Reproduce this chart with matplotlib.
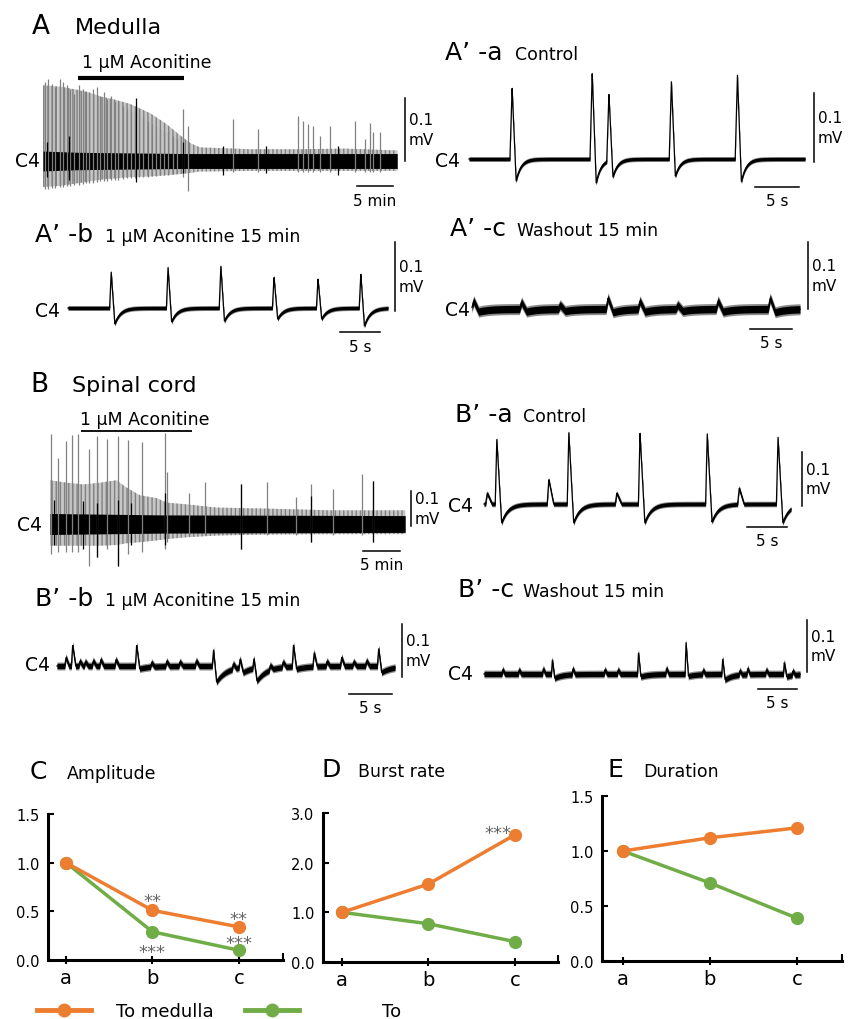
import numpy as np
import matplotlib
matplotlib.use("Agg")
import matplotlib.pyplot as plt
from matplotlib.lines import Line2D

plt.rcParams['font.family'] = ['DejaVu Sans']
plt.rcParams['hatch.linewidth'] = 1.0

# ---------------- data ----------------
categories = ['a', 'b', 'c']
amp_medulla = [1.0, 0.51, 0.34]
amp_spinal = [1.0, 0.29, 0.10]
rate_medulla = [1.0, 1.57, 2.56]
rate_spinal = [1.0, 0.77, 0.41]
dur_medulla = [1.0, 1.12, 1.21]
dur_spinal = [1.0, 0.71, 0.39]
series_labels = ['To medulla', 'To']

# long trace A (minutes, mV)
A_env_t = [0, 2.4, 4.7, 6.5, 8.0, 10.0, 12.1, 14.9, 17.1, 19.2, 20.6, 21.8, 28.8, 35.7, 42, 49.2]
A_env_up = [0.122, 0.120, 0.115, 0.110, 0.104, 0.099, 0.092, 0.077, 0.060, 0.040, 0.028, 0.022, 0.019, 0.019, 0.020, 0.017]
A_env_dn = [0.042, 0.040, 0.036, 0.033, 0.030, 0.028, 0.026, 0.025, 0.023, 0.021, 0.019, 0.017, 0.016, 0.016, 0.016, 0.016]
A_sp_t = [0.28, 0.74, 1.2, 1.67, 2.36, 2.82, 3.29, 3.75, 4.31, 5.0, 5.51, 5.97, 6.44, 6.99, 7.45,
          7.92, 8.47, 8.94, 9.49, 10.0, 10.46, 11.06, 11.62, 12.18, 12.78, 13.38, 13.94, 14.54, 15.09,
          15.69, 16.25, 16.81, 17.41, 18.01, 18.56, 19.4, 20.19, 26.44, 29.9, 35.37, 36.16, 36.85,
          37.55, 38.47, 39.86, 43.33, 44.72, 45.42, 45.88, 46.81]
A_sp_up = [0.127, 0.132, 0.124, 0.119, 0.132, 0.127, 0.122, 0.116, 0.108, 0.123, 0.116, 0.113, 0.111,
           0.116, 0.119, 0.105, 0.111, 0.100, 0.105, 0.097, 0.095, 0.089, 0.084, 0.081, 0.078, 0.084,
           0.070, 0.065, 0.060, 0.057, 0.052, 0.046, 0.046, 0.041, 0.035, 0.084, 0.057, 0.068, 0.052,
           0.073, 0.065, 0.060, 0.057, 0.041, 0.057, 0.065, 0.035, 0.062, 0.046, 0.046]
A_sp_dn = [0.045, 0.045, 0.044, 0.043, 0.042, 0.042, 0.041, 0.040, 0.039, 0.038, 0.037, 0.036, 0.035,
           0.035, 0.034, 0.033, 0.032, 0.032, 0.031, 0.030, 0.030, 0.029, 0.028, 0.028, 0.027, 0.026,
           0.026, 0.025, 0.024, 0.024, 0.023, 0.022, 0.022, 0.021, 0.020, 0.025, 0.049, 0.018, 0.018,
           0.018, 0.018, 0.018, 0.018, 0.018, 0.018, 0.018, 0.018, 0.018, 0.018, 0.018]
A_blk_t = [0.5, 3.6, 12.92, 19.5, 25.0, 31.0, 41.0]
A_blk_up = [0.03, 0.04, 0.101, 0.03, 0.025, 0.025, 0.025]
A_blk_dn = [0.025, 0.03, 0.034, 0.02, 0.022, 0.02, 0.022]
A_band_t = [0, 5, 20, 49.2]
A_band_hw = [0.016, 0.014, 0.012, 0.012]
A_drug = [4.9, 19.6]

# long trace B (minutes, mV)
B_env_t = [0, 2.25, 4.5, 6.76, 9.0, 10.36, 12.16, 14.4, 15.8, 18.5, 22.5, 29.3, 38.3, 48]
B_env_up = [0.125, 0.118, 0.113, 0.118, 0.125, 0.104, 0.082, 0.074, 0.061, 0.056, 0.047, 0.044, 0.039, 0.039]
B_env_dn = [0.062, 0.062, 0.062, 0.062, 0.060, 0.055, 0.052, 0.047, 0.043, 0.038, 0.033, 0.030, 0.029, 0.029]
B_sp_t = [0.14, 1.13, 2.12, 3.02, 3.83, 5.27, 6.31, 7.75, 9.23, 10.59, 12.39, 15.54, 15.77, 18.78,
          20.95, 25.77, 29.28, 33.2, 35.27, 38.29, 42.2, 43.6]
B_sp_up = [0.257, 0.19, 0.238, 0.255, 0.257, 0.214, 0.25, 0.243, 0.25, 0.24, 0.233, 0.26, 0.148, 0.09,
           0.119, 0.114, 0.119, 0.076, 0.114, 0.10, 0.143, 0.124]
B_sp_dn = [0.086, 0.08, 0.08, 0.08, 0.08, 0.119, 0.095, 0.071, 0.119, 0.086, 0.081, 0.071, 0.05, 0.03,
           0.03, 0.071, 0.03, 0.03, 0.052, 0.03, 0.03, 0.052]
B_blk_t = [0.5, 4.5, 6.3, 9.2, 11.0, 15.6, 25.77, 35.27, 43.6]
B_blk_up = [0.07, 0.065, 0.06, 0.07, 0.06, 0.09, 0.114, 0.08, 0.124]
B_blk_dn = [0.06, 0.07, 0.095, 0.119, 0.06, 0.06, 0.071, 0.052, 0.052]
B_band_t = [0, 15, 48]
B_band_hw = [0.030, 0.026, 0.024]
B_drug = [4.2, 19.2]

# short traces (seconds, mV): burst times, peak, undershoot
Aa_t = [4.9, 14.0, 15.9, 23.0, 30.5]
Aa_up = [0.103, 0.125, 0.097, 0.112, 0.123]
Aa_dn = [0.032, 0.035, 0.025, 0.025, 0.033]
Ab_t = [5.4, 12.5, 19.1, 25.75, 31.25, 36.6]
Ab_up = [0.052, 0.059, 0.061, 0.045, 0.042, 0.049]
Ab_dn = [0.023, 0.020, 0.019, 0.016, 0.016, 0.026]
Ac_t = [0.2, 5.9, 10.5, 16.2, 20.0, 24.5, 29.3, 35.5]
Ac_up = [0.012, 0.010, 0.006, 0.016, 0.012, 0.006, 0.012, 0.016]
Ac_dn = [0.004, 0.004, 0.003, 0.005, 0.004, 0.003, 0.004, 0.005]
Ba_t = [0.4, 1.6, 8.1, 10.6, 16.6, 19.5, 27.9, 31.9, 36.75]
Ba_up = [0.02, 0.12, 0.045, 0.133, 0.02, 0.131, 0.131, 0.03, 0.124]
Ba_dn = [0.0, 0.035, 0.0, 0.035, 0.0, 0.035, 0.033, 0.0, 0.035]
Bb_t = [1.05, 1.82, 2.67, 3.3, 4.22, 5.1, 6.86, 9.26, 11.0, 12.75, 14.3, 16.2, 18.2, 20.5, 21.3,
        22.9, 24.8, 26.3, 27.5, 29.9, 31.4, 33.1, 34.5, 36.0, 37.4]
Bb_up = [0.016, 0.039, 0.009, 0.008, 0.010, 0.012, 0.012, 0.039, 0.008, 0.009, 0.008, 0.010, 0.030,
         0.010, 0.016, 0.018, 0.009, 0.010, 0.040, 0.026, 0.009, 0.016, 0.008, 0.010, 0.033]
Bb_dn = [0.0, 0.0, 0.0, 0.0, 0.0, 0.0, 0.0, 0.005, 0.0, 0.0, 0.0, 0.0, 0.030, 0.0, 0.010,
         0.025, 0.0, 0.0, 0.005, 0.0, 0.0, 0.0, 0.0, 0.0, 0.012]
Bc_t = [2.4, 4.5, 7.6, 8.76, 11.4, 15.5, 17.2, 19.8, 23.4, 25.9, 28.1, 30.6, 32.8, 33.8, 36.2, 38.5, 39.6]
Bc_up = [0.008, 0.008, 0.010, 0.027, 0.011, 0.008, 0.008, 0.041, 0.011, 0.061, 0.008, 0.029, 0.008,
         0.011, 0.008, 0.022, 0.008]
Bc_dn = [0.0, 0.0, 0.0, 0.008, 0.0, 0.0, 0.0, 0.005, 0.0, 0.004, 0.0, 0.011, 0.0, 0.0, 0.0, 0.005, 0.0]

ORANGE = '#ED7D31'
GREEN = '#70AD47'

# ---------------- figure ----------------
W, H = 848, 1020
fig = plt.figure(figsize=(W / 100, H / 100), dpi=100)


def fx(x):
    return x / W


def fy(y):
    return 1 - y / H


def ftext(x, y, s, size, ha='left', va='baseline', **kw):
    fig.text(fx(x), fy(y), s, fontsize=size, ha=ha, va=va, **kw)


class Trace:
    def __init__(self, xs, xe, kx, yb, ky):
        self.xs, self.xe, self.kx, self.yb, self.ky = xs, xe, kx, yb, ky
        ytop, ybot = yb - 100, yb + 50
        self.ax = fig.add_axes([fx(xs), fy(ybot), (xe - xs) / W, (ybot - ytop) / H])
        self.ax.set_xlim(0, (xe - xs) / kx)
        self.ax.set_ylim((yb - ybot) / ky, (yb - ytop) / ky)
        self.ax.axis('off')
        self.T = (xe - xs) / kx

    def dx(self, x):
        return (x - self.xs) / self.kx

    def dy(self, y):
        return (self.yb - y) / self.ky

    def scalebars(self, hx0, hy, hlen, hlabel, vx, vy0, vy1):
        ax = self.ax
        x0 = self.dx(hx0)
        ax.plot([x0, x0 + hlen], [self.dy(hy), self.dy(hy)], color='k', lw=1.1, clip_on=False)
        ax.text(x0 + hlen / 2, self.dy(hy + 14), hlabel, ha='center', va='center', fontsize=11)
        ax.plot([self.dx(vx)] * 2, [self.dy(vy0), self.dy(vy1)], color='k', lw=1.1, clip_on=False)
        ax.text(self.dx(vx + 4), (self.dy(vy0) + self.dy(vy1)) / 2, '0.1\nmV', ha='left',
                va='center', fontsize=11, linespacing=1.35)

    def c4(self, xr, yb):
        ftext(xr, yb, 'C4', 13.5, ha='right')


def wave(t, times, ups, downs, rise, fall, tau):
    y = np.zeros_like(t)
    for t0, a, d in zip(times, ups, downs):
        r = (t >= t0 - rise) & (t < t0)
        y[r] += a * (t[r] - (t0 - rise)) / rise
        f = (t >= t0) & (t < t0 + fall)
        y[f] += a - (a + d) * (t[f] - t0) / fall
        g = t >= t0 + fall
        y[g] += -d * np.exp(-(t[g] - t0 - fall) / tau)
    return y


def short_trace(tr, times, ups, downs, hw, rise=0.22, fall=0.5, tau=1.0):
    t = np.linspace(0, tr.T, 4000)
    y = wave(t, times, ups, downs, rise, fall, tau)
    ax = tr.ax
    ax.fill_between(t, y - 1.5 * hw, y + 1.5 * hw, color='0.55', lw=0, clip_on=False)
    ax.fill_between(t, y - hw, y + hw, color='k', lw=0, clip_on=False)
    ax.plot(t, y, color='k', lw=0.9, clip_on=False)


def long_trace(tr, env_t, env_up, env_dn, sp_t, sp_up, sp_dn, blk_t, blk_up, blk_dn, band_t, band_hw):
    ax = tr.ax
    ax.fill_between(env_t, -np.array(env_dn), env_up, facecolor='0.78', edgecolor='0.5',
                    hatch='||||', lw=0, clip_on=False)
    ax.vlines(sp_t, -np.array(sp_dn), sp_up, color='0.5', lw=0.9, clip_on=False)
    ax.fill_between(band_t, -np.array(band_hw), band_hw, color='k', lw=0, clip_on=False)
    ax.vlines(blk_t, -np.array(blk_dn), blk_up, color='k', lw=0.9, clip_on=False)


# ---- Panel A ----
ftext(32, 34, 'A', 19)
ftext(75, 34, 'Medulla', 16)
trA = Trace(43, 397, 7.2, 162, 620)
long_trace(trA, A_env_t, A_env_up, A_env_dn, A_sp_t, A_sp_up, A_sp_dn, A_blk_t, A_blk_up, A_blk_dn,
           A_band_t, A_band_hw)
trA.ax.plot(A_drug, [trA.dy(79)] * 2, color='k', lw=3, clip_on=False, solid_capstyle='butt')
ftext(82, 68, '1 μM Aconitine', 12.5)
trA.scalebars(357, 187, 5, '5 min', 405, 162, 99)
trA.c4(40, 167)

# ---- A'-a ----
ftext(445, 60, 'A’ -a', 18)
ftext(515, 60, 'Control', 12.5)
trAa = Trace(469, 805, 8.8, 160, 690)
short_trace(trAa, Aa_t, Aa_up, Aa_dn, 0.0024, rise=0.25, fall=0.45, tau=0.55)
trAa.scalebars(755, 188, 5, '5 s', 814, 163, 94)
trAa.c4(460, 167)

# ---- A'-b ----
ftext(35, 242, 'A’ -b', 18)
ftext(105, 242, '1 μM Aconitine 15 min', 12.5)
trAb = Trace(68, 388, 8.0, 309, 690)
short_trace(trAb, Ab_t, Ab_up, Ab_dn, 0.0024, rise=0.2, fall=0.45, tau=0.7)
trAb.scalebars(340, 333, 5, '5 s', 395, 312, 243)
trAb.c4(60, 317)

# ---- A'-c ----
ftext(450, 236, 'A’ -c', 18)
ftext(517, 236, 'Washout 15 min', 12.5)
trAc = Trace(472, 800, 8.4, 310, 670)
short_trace(trAc, Ac_t, Ac_up, Ac_dn, 0.0055, rise=0.25, fall=0.6, tau=1.2)
trAc.scalebars(750, 330, 5, '5 s', 808, 310, 243)
trAc.c4(470, 316)

# ---- Panel B ----
ftext(30, 392, 'B', 19)
ftext(72, 392, 'Spinal cord', 16)
trB = Trace(50, 405, 7.4, 525, 350)
long_trace(trB, B_env_t, B_env_up, B_env_dn, B_sp_t, B_sp_up, B_sp_dn, B_blk_t, B_blk_up, B_blk_dn,
           B_band_t, B_band_hw)
trB.ax.plot(B_drug, [trB.dy(432)] * 2, color='k', lw=1.3, clip_on=False, solid_capstyle='butt')
ftext(80, 425, '1 μM Aconitine', 12.5)
trB.scalebars(363, 552, 5, '5 min', 411, 527, 492)
trB.c4(42, 531)

# ---- B'-a ----
ftext(455, 422, 'B’ -a', 18)
ftext(523, 422, 'Control', 12.5)
trBa = Trace(484, 791, 8.0, 505, 540)
short_trace(trBa, Ba_t, Ba_up, Ba_dn, 0.0035, rise=0.2, fall=0.6, tau=0.8)
trBa.scalebars(747, 528, 5, '5 s', 802, 507, 453)
trBa.c4(473, 512)

# ---- B'-b ----
ftext(35, 606, 'B’ -b', 18)
ftext(105, 606, '1 μM Aconitine 15 min', 12.5)
trBb = Trace(57, 395, 8.6, 667, 530)
short_trace(trBb, Bb_t, Bb_up, Bb_dn, 0.005, rise=0.15, fall=0.35, tau=1.2)
trBb.scalebars(349, 695, 5, '5 s', 402, 678, 625)
trBb.c4(50, 671)

# ---- B'-c ----
ftext(458, 597, 'B’ -c', 18)
ftext(523, 597, 'Washout 15 min', 12.5)
trBc = Trace(484, 800, 7.8, 675, 520)
short_trace(trBc, Bc_t, Bc_up, Bc_dn, 0.005, rise=0.12, fall=0.3, tau=1.0)
trBc.scalebars(758, 690, 5, '5 s', 807, 673, 621)
trBc.c4(473, 680)


# ---------------- line panels ----------------
def line_panel(box, xl, xr, ymax, yticks, med, spi):
    x0, y0, x1, y1 = box
    ax = fig.add_axes([fx(x0), fy(y1), (x1 - x0) / W, (y1 - y0) / H])
    xs = np.arange(len(categories))
    ax.plot(xs, spi, '-o', color=GREEN, lw=2.5, ms=8.5, clip_on=False, zorder=3)
    ax.plot(xs, med, '-o', color=ORANGE, lw=2.5, ms=8.5, clip_on=False, zorder=4)
    ax.set_xlim(xl, xr)
    ax.set_ylim(0, ymax)
    for s in ('top', 'right'):
        ax.spines[s].set_visible(False)
    for s in ('left', 'bottom'):
        ax.spines[s].set_linewidth(2.2)
    ax.set_xticks(xs)
    ax.set_xticklabels(categories, fontsize=14)
    ax.set_xticks([xr], minor=True)
    ax.set_yticks(yticks)
    ax.set_yticklabels([f'{v:.1f}' for v in yticks], fontsize=10.5)
    ax.tick_params(axis='x', which='major', direction='inout', length=6, width=1.5, pad=3)
    ax.tick_params(axis='x', which='minor', direction='in', length=5, width=1.5)
    ax.tick_params(axis='y', direction='in', length=4, width=1.5, pad=6)
    return ax


axC = line_panel((48, 815, 283, 961), -0.208, 2.51, 1.5, [0.0, 0.5, 1.0, 1.5], amp_medulla, amp_spinal)
axD = line_panel((323, 814, 558, 963), -0.22, 2.50, 3.0, [0.0, 1.0, 2.0, 3.0], rate_medulla, rate_spinal)
axE = line_panel((602, 797, 842, 962), -0.24, 2.52, 1.5, [0.0, 0.5, 1.0, 1.5], dur_medulla, dur_spinal)

star_kw = dict(textcoords='offset points', ha='center', va='baseline', fontsize=13, color='0.4')
axC.annotate('**', (1, amp_medulla[1]), xytext=(0, 3.0), **star_kw)
axC.annotate('**', (2, amp_medulla[2]), xytext=(0, 1.8), **star_kw)
axC.annotate('***', (1, amp_spinal[1]), xytext=(0, -18), **star_kw)
axC.annotate('***', (2, amp_spinal[2]), xytext=(0, 1.8), **star_kw)
axD.annotate('***', (2, rate_medulla[2]), xytext=(-12, -2.6), **star_kw)

ftext(30, 779, 'C', 18)
ftext(67, 779, 'Amplitude', 12.5)
ftext(322, 777, 'D', 18)
ftext(358, 777, 'Burst rate', 12.5)
ftext(608, 777, 'E', 18)
ftext(643, 777, 'Duration', 12.5)

# legend
h1 = Line2D([], [], color=ORANGE, lw=3.5, marker='o', ms=9)
h2 = Line2D([], [], color=GREEN, lw=3.5, marker='o', ms=9)
fig.legend([h1], [series_labels[0]], loc='center left', bbox_to_anchor=(fx(37), fy(1012)),
           frameon=False, fontsize=13, handlelength=3.0, handletextpad=1.4, borderpad=0,
           borderaxespad=0)
fig.legend([h2], [series_labels[1]], loc='center left', bbox_to_anchor=(fx(245), fy(1012)),
           frameon=False, fontsize=13, handlelength=3.0, handletextpad=4.6, borderpad=0,
           borderaxespad=0)

fig.savefig('out.png', dpi=100)
